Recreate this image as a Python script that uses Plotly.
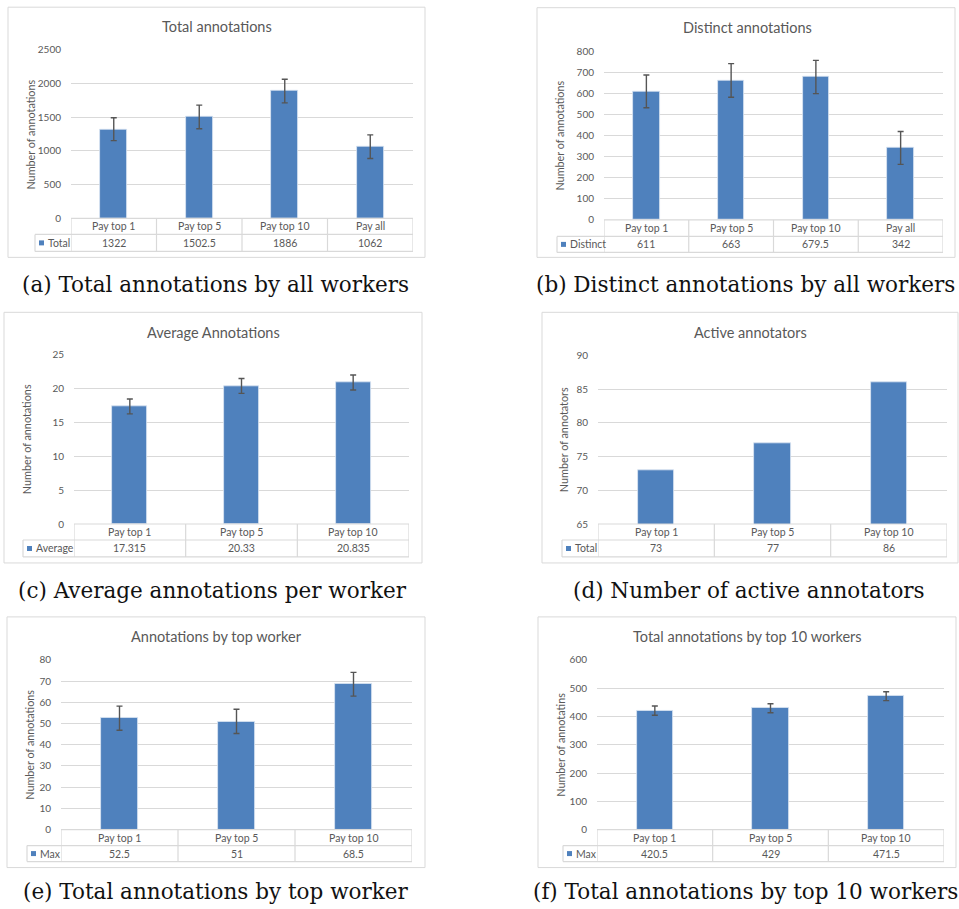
import plotly.graph_objects as go

W, H = 959, 909

# ---------------- data ----------------
cats4 = ["Pay top 1", "Pay top 5", "Pay top 10", "Pay all"]
cats3 = ["Pay top 1", "Pay top 5", "Pay top 10"]

total_vals = [1322, 1502.5, 1886, 1062]
total_err = [170, 175, 175, 175]

distinct_vals = [611, 663, 679.5, 342]
distinct_err = [78, 80, 79, 78]

average_vals = [17.315, 20.33, 20.835]
average_err = [1.1, 1.1, 1.1]

active_vals = [73, 77, 86]

topworker_vals = [52.5, 51, 68.5]
topworker_err = [5.7, 5.7, 5.6]

top10_vals = [420.5, 429, 471.5]
top10_err = [16.5, 16, 15.5]

chart_titles = ["Total annotations", "Distinct annotations", "Average Annotations",
                "Active annotators", "Annotations by top worker",
                "Total annotations by top 10 workers"]
y_titles = ["Number of annotations", "Number of annotations", "Number of annotations",
            "Number of annotators", "Number of annotations", "Number of annotatins"]
series_names = ["Total", "Distinct", "Average", "Total", "Max", "Max"]
captions = ["(a) Total annotations by all workers",
            "(b) Distinct annotations by all workers",
            "(c) Average annotations per worker",
            "(d) Number of active annotators",
            "(e) Total annotations by top worker",
            "(f) Total annotations by top 10 workers"]

panels_data = [
    (cats4, total_vals, total_err, (0, 2500), 500),
    (cats4, distinct_vals, distinct_err, (0, 800), 100),
    (cats3, average_vals, average_err, (0, 25), 5),
    (cats3, active_vals, None, (65, 90), 5),
    (cats3, topworker_vals, topworker_err, (0, 80), 10),
    (cats3, top10_vals, top10_err, (0, 600), 100),
]

# ---------------- layout geometry (target pixels in the picture) ----------------
geom = [
    dict(box=(8, 6.5, 425, 257), title=(217, 26), px=(71, 413), top=49, zero=218, r1=234, r2=251,
         leg=35, yt=(31, 134), cap=(215, 284)),
    dict(box=(537, 7, 955, 257), title=(747, 27), px=(604, 943), top=51, zero=219.5, r1=236, r2=252,
         leg=557, yt=(560, 135), cap=(745, 284)),
    dict(box=(4, 312, 422, 563), title=(213, 332), px=(74, 409), top=354, zero=524, r1=540, r2=557,
         leg=23, yt=(26, 439), cap=(212, 591)),
    dict(box=(542, 312, 958, 563), title=(750, 332), px=(598, 947), top=355, zero=524, r1=540, r2=557,
         leg=562, yt=(563, 440), cap=(749, 591)),
    dict(box=(7, 617, 425, 868), title=(216, 637), px=(61, 412), top=660, zero=830, r1=846, r2=862,
         leg=27, yt=(30, 745), cap=(216, 892)),
    dict(box=(538, 617, 956, 868), title=(747, 637), px=(597, 944), top=660, zero=830, r1=846, r2=862,
         leg=563, yt=(561, 745), cap=(745, 892)),
]

BAR = "#4f81bd"
GRID = "#d9d9d9"
TXT = "#595959"
FONT = "Lato, Open Sans, sans-serif"
SERIF = "DejaVu Serif, serif"

# measured vertical mapping of the photographed page: picture_y = A + B * page_y
A_OFF, B_SCALE = 6.3, 0.987


def fx(px):
    return px / W


def fy(py):
    return 1 - ((py - A_OFF) / B_SCALE) / H


def fmt(v):
    return f"{v:g}"


fig = go.Figure()
shapes = []
annotations = []
layout_axes = {}

for i, ((cats, vals, errs, yr, dt), g) in enumerate(zip(panels_data, geom)):
    n = i + 1
    xa = "x" if n == 1 else f"x{n}"
    ya = "y" if n == 1 else f"y{n}"
    xkey = "xaxis" if n == 1 else f"xaxis{n}"
    ykey = "yaxis" if n == 1 else f"yaxis{n}"

    trace = go.Bar(
        x=cats, y=vals, xaxis=xa, yaxis=ya,
        marker=dict(color=BAR, line=dict(color="#dce6f2", width=0.8)),
        width=0.313, showlegend=False, hoverinfo="x+y",
    )
    if errs is not None:
        trace.error_y = dict(type="data", array=errs, visible=True,
                             color="#555555", thickness=1.4, width=3)
    fig.add_trace(trace)

    layout_axes[xkey] = dict(
        domain=[fx(g["px"][0]), fx(g["px"][1])], anchor=ya,
        type="category", categoryorder="array", categoryarray=cats,
        range=[-0.5, len(cats) - 0.5], showticklabels=False,
        showgrid=False, zeroline=False, showline=False, ticks="", fixedrange=True,
    )
    layout_axes[ykey] = dict(
        domain=[fy(g["zero"]), fy(g["top"])], anchor=xa,
        range=list(yr), dtick=dt, tick0=yr[0], showgrid=True, gridcolor=GRID, gridwidth=1,
        zeroline=False, showline=False, ticks="outside", ticklen=7,
        tickcolor="rgba(0,0,0,0)", tickfont=dict(family=FONT, size=10, color=TXT),
        fixedrange=True,
    )

    # chart border
    x0, y0, x1, y1 = g["box"]
    shapes.append(dict(type="rect", xref="paper", yref="paper",
                       x0=fx(x0), x1=fx(x1), y0=fy(y0), y1=fy(y1),
                       line=dict(color=GRID, width=1), layer="below"))

    # data table grid
    lc = dict(color=GRID, width=1.2)
    pl, pr = g["px"]
    zy, r1, r2, leg = g["zero"], g["r1"], g["r2"], g["leg"]
    shapes.append(dict(type="line", xref="paper", yref="paper", x0=fx(pl), x1=fx(pr),
                       y0=fy(zy), y1=fy(zy), line=lc))
    for yy in (r1, r2):
        shapes.append(dict(type="line", xref="paper", yref="paper", x0=fx(leg), x1=fx(pr),
                           y0=fy(yy), y1=fy(yy), line=lc))
    for k in range(len(cats) + 1):
        shapes.append(dict(type="line", xref=xa, yref="paper", x0=k - 0.5, x1=k - 0.5,
                           y0=fy(zy), y1=fy(r2), line=lc))
    shapes.append(dict(type="line", xref="paper", yref="paper", x0=fx(leg), x1=fx(leg),
                       y0=fy(r1), y1=fy(r2), line=lc))

    # table texts
    for c, v in zip(cats, vals):
        annotations.append(dict(x=c, xref=xa, y=fy((zy + r1) / 2), yref="paper",
                                text=c, showarrow=False, xanchor="center", yanchor="middle",
                                font=dict(family=FONT, size=10.5, color=TXT)))
        annotations.append(dict(x=c, xref=xa, y=fy((r1 + r2) / 2), yref="paper",
                                text=fmt(v), showarrow=False, xanchor="center", yanchor="middle",
                                font=dict(family=FONT, size=10.5, color=TXT)))

    # legend key
    my = (r1 + r2) / 2
    shapes.append(dict(type="rect", xref="paper", yref="paper",
                       x0=fx(leg + 4), x1=fx(leg + 9), y0=fy(my - 2.5), y1=fy(my + 2.5),
                       fillcolor=BAR, line=dict(width=0)))
    annotations.append(dict(x=fx(leg + 10.5), y=fy(my), xref="paper", yref="paper",
                            text=series_names[i], showarrow=False, xanchor="left", yanchor="middle",
                            font=dict(family=FONT, size=10.5, color=TXT)))

    # chart title
    annotations.append(dict(x=fx(g["title"][0]), y=fy(g["title"][1]), xref="paper", yref="paper",
                            text=chart_titles[i], showarrow=False, xanchor="center", yanchor="middle",
                            font=dict(family=FONT, size=14.5, color=TXT)))
    # y-axis title
    annotations.append(dict(x=fx(g["yt"][0]), y=fy(g["yt"][1]), xref="paper", yref="paper",
                            text=y_titles[i], showarrow=False, xanchor="center", yanchor="middle",
                            textangle=-90, font=dict(family=FONT, size=10.8, color=TXT)))
    # caption
    annotations.append(dict(x=fx(g["cap"][0]), y=fy(g["cap"][1]), xref="paper", yref="paper",
                            text=captions[i], showarrow=False, xanchor="center", yanchor="middle",
                            font=dict(family=SERIF, size=21.5, color="#111111")))

fig.update_layout(
    width=W, height=H, margin=dict(l=0, r=0, t=0, b=0),
    paper_bgcolor="white", plot_bgcolor="white",
    shapes=shapes, annotations=annotations, bargap=0,
    **layout_axes,
)

css_js = (
    "var s=document.createElement('style');"
    "s.innerHTML='html,body{margin:0!important;padding:0!important;overflow:hidden;width:959px;height:909px;}"
    ".plotly-graph-div,.plot-container,.svg-container{display:block!important;}';"
    "document.head.appendChild(s);"
)
fig.write_html("out.html", config={"displayModeBar": False}, post_script=css_js)
